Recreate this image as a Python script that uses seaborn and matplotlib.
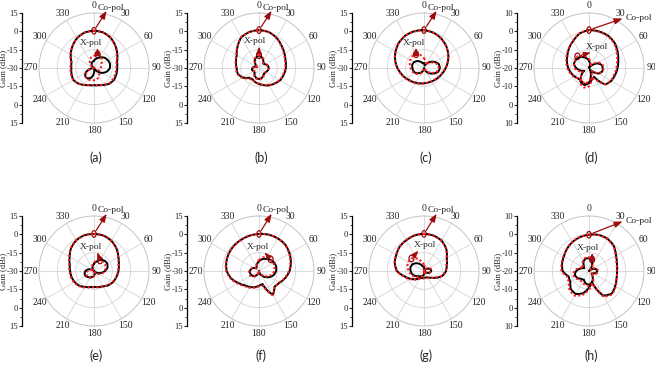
import numpy as np
import pandas as pd
import matplotlib
matplotlib.use("Agg")
import matplotlib.pyplot as plt
import seaborn as sns
from matplotlib.patches import Ellipse
from matplotlib.ticker import AutoMinorLocator

sns.set_theme(style="white")
plt.rcParams["font.family"] = ["Liberation Serif", "DejaVu Serif"]

# ---------------- data (gain in dBi every 15 deg, clockwise from 0) ----------------
angles_deg = list(range(0, 360, 15))
theta_labels = ["0", "30", "60", "90", "120", "150", "180", "210", "240", "270", "300", "330"]
panel_names = ["(a)", "(b)", "(c)", "(d)", "(e)", "(f)", "(g)", "(h)"]
gain_labels_wide = ["15", "0", "-15", "-30", "-15", "0", "15"]
gain_labels_narrow = ["10", "0", "-10", "-20", "-10", "0", "10"]

copol_meas_a = [0.5, 0, -2, -5, -8, -10.5, -11, -11, -11, -12, -14, -15.5, -16, -15.5, -14, -12, -10.5, -11, -11.5, -11, -8, -5, -2, 0]
copol_sim_a = [0.5, 0, -2.2, -5.3, -8.5, -11, -11.8, -12, -12, -12.5, -14.3, -15.5, -16, -15.5, -14, -12, -10.3, -10.5, -10.8, -10.5, -7.8, -5, -2, 0]
xpol_meas_a = [-24, -22, -20, -18, -17, -16.5, -17, -19, -22, -26, -30, -30, -26, -22, -20, -20, -22, -26, -30, -30, -30, -28, -26, -25]
xpol_sim_a = [-20, -18.5, -19, -21, -23, -24, -24.5, -25, -26, -24, -22, -20.5, -20, -19.5, -19.5, -20.5, -23, -27, -30, -30, -29, -26, -23, -21]

copol_meas_b = [1, 0.5, -1.4, -4, -6, -7.5, -8, -9, -10, -12, -13.6, -15.5, -17, -18, -19.4, -18.8, -14.5, -12, -11.7, -10.5, -9, -5.2, -1, 0.5]
copol_sim_b = [1, 0.4, -1.6, -4.3, -6.5, -8, -8.6, -9.5, -10.3, -12.2, -13.8, -15.5, -17, -18.3, -19, -18, -14, -11.5, -11.2, -10.2, -8.8, -5, -1, 0.5]
xpol_meas_b = [-20, -21, -23, -25, -24, -22.5, -22, -22.5, -23.5, -24, -23, -21.5, -21, -21.5, -23, -25, -25, -24, -24.5, -26, -28, -26, -23, -21]
xpol_sim_b = [-19.5, -20.5, -22.5, -24.5, -24, -23, -22, -22.5, -23.5, -23.5, -22.5, -21, -20.5, -21, -22.5, -24.5, -25.5, -24.5, -25, -27, -28, -26, -22.5, -20.5]

copol_meas_c = [1.0, -0.1, -2.0, -4.4, -7.1, -9.8, -12.2, -14.2, -15.7, -16.7, -17.4, -17.7, -17.5, -17, -16.2, -14.9, -13.1, -10.9, -8.3, -5.6, -3.1, -0.9, 0.6, 1.1]
copol_sim_c = [1.0, -0.2, -2.2, -4.6, -7.3, -10, -12.5, -14.5, -16, -17, -17.5, -17.6, -17.3, -16.8, -16, -14.6, -12.8, -10.5, -8.0, -5.4, -3.0, -0.9, 0.5, 1.0]
xpol_meas_c = [-26, -28, -26, -23, -20, -17.5, -17, -18, -21, -24, -27, -30, -30, -28, -26, -24, -22, -21, -20.5, -20, -20.5, -22, -24, -26]
xpol_sim_c = [-22, -25, -27, -24, -21, -18.5, -18, -19, -22, -25, -28, -30, -29, -27, -25, -23, -21, -20, -19, -18, -17, -16.5, -17, -19]

copol_meas_d = [0.7, 0.7, 0.5, -0.4, -2, -3.5, -4.4, -5.3, -6, -7.3, -14.5, -13.6, -11.8, -10.5, -11.8, -11.8, -10.9, -9.8, -8.7, -7.6, -6.4, -4.7, -2.9, -0.5]
copol_sim_d = [0.7, 0.6, 0.2, -0.8, -2.5, -4.2, -5, -5.8, -6.3, -7.5, -13, -14.5, -13, -11, -12.5, -12, -10.5, -9.3, -8.2, -7.2, -6, -4.5, -2.7, -0.4]
xpol_meas_d = [-16, -18, -20, -18, -15, -13, -12.5, -12.5, -14, -17, -19, -16, -12, -10.5, -11, -14, -17, -15, -13, -11.5, -11.5, -12, -13, -14.5]
xpol_sim_d = [-15, -17, -19, -17, -14, -12.5, -12, -12.5, -14.5, -17.5, -18, -14, -10, -9, -10.5, -14, -16, -14, -12, -11.5, -11.5, -11, -12.5, -13.5]

copol_meas_e = [0.3, 0, -1.5, -4, -7, -9, -10, -11, -12, -13.5, -15.5, -16.5, -17, -16.5, -15, -13, -11.8, -11, -10.5, -9.5, -7, -3.5, -1, 0.3]
copol_sim_e = [0.3, -0.1, -1.7, -4.2, -7.2, -9.3, -10.3, -11.2, -12.3, -13.8, -15.6, -16.4, -16.8, -16.2, -14.6, -12.6, -11.2, -10.4, -10, -9, -6.6, -3.3, -0.9, 0.3]
xpol_meas_e = [-24, -22, -19.5, -18, -17.5, -18.5, -21, -24, -27, -30, -30, -28, -26, -25, -24, -23, -22, -22, -23, -25, -28, -30, -28, -26]
xpol_sim_e = [-23, -21, -20, -19.5, -19.5, -20, -21.5, -23, -25, -27, -29, -28, -26, -24.5, -23.5, -23, -23, -23.5, -25, -27, -29, -30, -28, -25]

copol_meas_f = [0.3, 0.8, 0.8, 0.5, -1.2, -3, -5, -7.8, -10.8, -12, -7.5, -19, -18, -16.3, -15, -13.5, -10.5, -6.5, -3.6, -2.3, -1.5, -0.9, -0.6, -0.1]
copol_sim_f = [0.3, 0.7, 0.6, 0.2, -1.5, -3.4, -5.5, -8.2, -11, -12.3, -7, -17.5, -17.5, -16, -14.3, -12.8, -9.8, -6, -3.2, -2, -1.3, -0.8, -0.6, -0.1]
xpol_meas_f = [-22, -20, -18.5, -17, -16, -15.5, -16, -17.5, -20, -23, -26, -28, -30, -28, -26, -24, -23, -22.5, -22.5, -23.5, -25, -27, -26, -24]
xpol_sim_f = [-21, -18.5, -17, -16.5, -16.5, -17, -17.5, -19, -21.5, -24, -27, -29, -30, -28, -25.5, -23.5, -22, -21.5, -22, -23, -25, -27, -26.5, -23.5]

copol_meas_g = [0.4, 0, -1.3, -4.3, -8.5, -10.7, -12, -14.5, -19, -22.3, -24, -24.5, -24.5, -24, -23.4, -20.6, -17.3, -13.4, -7.9, -5.2, -3.8, -1.9, -1, 0.1]
copol_sim_g = [0.4, -0.1, -1.5, -4.5, -8.7, -11, -12.3, -14.8, -19.5, -22, -23.5, -24, -24, -23.5, -22.8, -20, -16.8, -12.8, -7.5, -5, -3.6, -1.8, -0.9, 0.1]
xpol_meas_g = [-27, -29, -30, -28, -26, -24.5, -24, -25, -27, -29, -30, -29, -27, -26, -25, -24, -22, -20, -19, -18.5, -19, -21, -23.5, -26]
xpol_sim_g = [-25, -28, -30, -27, -25, -24, -24, -25.5, -27.5, -29.5, -30, -29, -27, -26, -24.5, -23, -21, -19, -17.5, -16, -15.2, -15.5, -18, -22]

copol_meas_h = [-0.2, 0.4, 0.3, -0.8, -3, -4.3, -4.7, -4.5, -3.5, -2.5, -4.5, -14, -11, -7.5, -5.5, -6, -8.3, -8.5, -5.6, -4.8, -4.2, -3, -1.8, -0.9]
copol_sim_h = [-0.2, 0.3, 0.1, -1, -3.3, -4.5, -4.8, -4.4, -3.2, -2, -3.8, -13, -10, -6.5, -4.5, -5, -7.5, -7.8, -5, -4.5, -4, -2.8, -1.7, -0.8]
xpol_meas_h = [-13, -14, -17, -20, -18, -16, -15.5, -16, -17.5, -18, -16, -13.5, -12.5, -13, -14.5, -14, -12.5, -12, -13, -15, -17, -16, -14, -13]
xpol_sim_h = [-12.5, -13.5, -16, -19, -17, -15.5, -15, -15.5, -17, -18.5, -15.5, -13, -12, -12, -13, -13, -12, -11, -12, -14, -16.5, -15, -13.5, -12.5]

# ---------------- layout ----------------
W, H = 655, 372
centers_x = [94, 259, 424, 589]
centers_y = [68, 271]
label_y = [158, 356]
R = 55
dark = "#9e0b0b"

panels = [
    (copol_meas_a, copol_sim_a, xpol_meas_a, xpol_sim_a, 1, (0.47, 0.73)),
    (copol_meas_b, copol_sim_b, xpol_meas_b, xpol_sim_b, 0, (0.46, 0.745)),
    (copol_meas_c, copol_sim_c, xpol_meas_c, xpol_sim_c, 22, (0.41, 0.73)),
    (copol_meas_d, copol_sim_d, xpol_meas_d, xpol_sim_d, 21, (0.575, 0.69)),
    (copol_meas_e, copol_sim_e, xpol_meas_e, xpol_sim_e, 2, (0.47, 0.72)),
    (copol_meas_f, copol_sim_f, xpol_meas_f, xpol_sim_f, 3, (0.49, 0.72)),
    (copol_meas_g, copol_sim_g, xpol_meas_g, xpol_sim_g, 21, (0.51, 0.735)),
    (copol_meas_h, copol_sim_h, xpol_meas_h, xpol_sim_h, 1, (0.49, 0.71)),
]

fig = plt.figure(figsize=(W / 100, H / 100), dpi=100)
fig.patch.set_facecolor("white")

theta = np.deg2rad(np.append(angles_deg, 360))


def closed(v):
    return np.append(v, v[0])


def to_frac(ax, th, r):
    disp = ax.transData.transform((th, r))
    return ax.transAxes.inverted().transform(disp)


for i, (cm, cs, xm, xs, xidx, xtext) in enumerate(panels):
    row, col = divmod(i, 4)
    cx, cy = centers_x[col], centers_y[row]
    narrow = panel_names[i] in ("(d)", "(h)")
    rmin, rmax = (-20, 10) if narrow else (-30, 15)
    step = 10 if narrow else 15

    ax = fig.add_axes([(cx - R) / W, 1 - (cy + R) / H, 2 * R / W, 2 * R / H], projection="polar")
    ax.set_theta_zero_location("N")
    ax.set_theta_direction(-1)

    df = pd.DataFrame({
        "theta": theta,
        "copol_meas": np.clip(closed(cm), rmin, None),
        "copol_sim": np.clip(closed(cs), rmin, None),
        "xpol_meas": np.clip(closed(xm), rmin, None),
        "xpol_sim": np.clip(closed(xs), rmin, None),
    })
    for col_name in ["xpol_meas", "copol_meas"]:
        sns.lineplot(data=df, x="theta", y=col_name, ax=ax, color="black", lw=1.4,
                     sort=False, estimator=None)
    for col_name in ["xpol_sim", "copol_sim"]:
        sns.lineplot(data=df, x="theta", y=col_name, ax=ax, color="#ff1a1a", lw=1.5,
                     sort=False, estimator=None, linestyle=(0, (1, 1.1)))
    for ln in ax.lines:
        ln.get_path()._interpolation_steps = 20
    ax.set_xlabel("")
    ax.set_ylabel("")
    ax.set_rlim(rmin, rmax)
    ax.set_yticks([rmax - 2 * step, rmax - step])
    ax.set_yticklabels([])
    ax.set_xticks(np.deg2rad(np.arange(0, 360, 30)))
    ax.set_xticklabels(theta_labels)
    ax.tick_params(axis="x", labelsize=7, pad=-1.5, length=0)
    ax.grid(True, color="#d4d4d4", lw=0.6)
    ax.spines["polar"].set_color("#c4c4c4")
    ax.spines["polar"].set_linewidth(0.7)
    ax.set_facecolor("white")

    # Co-pol marker and arrow
    ex, ey = to_frac(ax, 0.0, cm[0])
    ax.add_patch(Ellipse((ex, ey), 0.038, 0.06, transform=ax.transAxes, fill=False,
                         ec=dark, lw=0.9, clip_on=False))
    if narrow:
        tpos, apos = (0.83, 0.955), (0.805, 0.95)
    else:
        tpos, apos = (0.53, 1.05), (0.615, 1.02)
    ax.annotate("", xy=apos, xycoords="axes fraction", xytext=(0.0, cm[0]), textcoords="data",
                arrowprops=dict(arrowstyle="-|>,head_length=0.4,head_width=0.15", color=dark,
                                lw=0.9, shrinkA=3, shrinkB=0), annotation_clip=False)
    ax.text(tpos[0], tpos[1], "Co-pol", transform=ax.transAxes, ha="left", va="center", fontsize=6.8,
            clip_on=False)

    # X-pol marker and arrow
    th_x = np.deg2rad(angles_deg[xidx])
    fx, fy = to_frac(ax, th_x, xs[xidx])
    ax.add_patch(Ellipse((fx, fy), 0.045, 0.06, transform=ax.transAxes, fill=False,
                         ec=dark, lw=0.9, clip_on=False))
    tx, ty = xtext
    aend = (tx + float(np.clip(fx - tx, -0.06, 0.06)), ty - 0.05)
    ax.annotate("", xy=aend, xycoords="axes fraction", xytext=(th_x, xs[xidx]), textcoords="data",
                arrowprops=dict(arrowstyle="-|>,head_length=0.35,head_width=0.13", color=dark,
                                lw=0.8, shrinkA=3, shrinkB=0), annotation_clip=False)
    ax.text(tx, ty, "X-pol", transform=ax.transAxes, ha="center", va="center", fontsize=6.8)

    # Gain scale axis
    gx = cx - 72
    span = rmax - rmin
    gax = fig.add_axes([gx / W, 1 - (cy + R) / H, 0.0005, 2 * R / H])
    gax.set_ylim(-span, span)
    gax.set_yticks(np.arange(-span, span + 1, step))
    gax.set_yticklabels(gain_labels_narrow if narrow else gain_labels_wide)
    gax.yaxis.set_minor_locator(AutoMinorLocator(2))
    for s in ["top", "right", "bottom"]:
        gax.spines[s].set_visible(False)
    gax.spines["left"].set_color("black")
    gax.spines["left"].set_linewidth(0.9)
    gax.set_xticks([])
    gax.patch.set_visible(False)
    gax.tick_params(axis="y", which="major", length=2.5, width=0.8, direction="out",
                    labelsize=6.2, pad=0.5, left=True)
    gax.tick_params(axis="y", which="minor", length=1.4, width=0.6, direction="out", left=True)
    fig.text((cx - 90.5) / W, 1 - cy / H, "Gain (dBi)", rotation=90, ha="center", va="center",
             fontsize=6.2)

    fig.text((cx + 2) / W, 1 - label_y[row] / H, panel_names[i], ha="center", va="center",
             fontsize=9, family=["Lato", "DejaVu Sans"])

fig.savefig("out.png", dpi=100, facecolor="white")
